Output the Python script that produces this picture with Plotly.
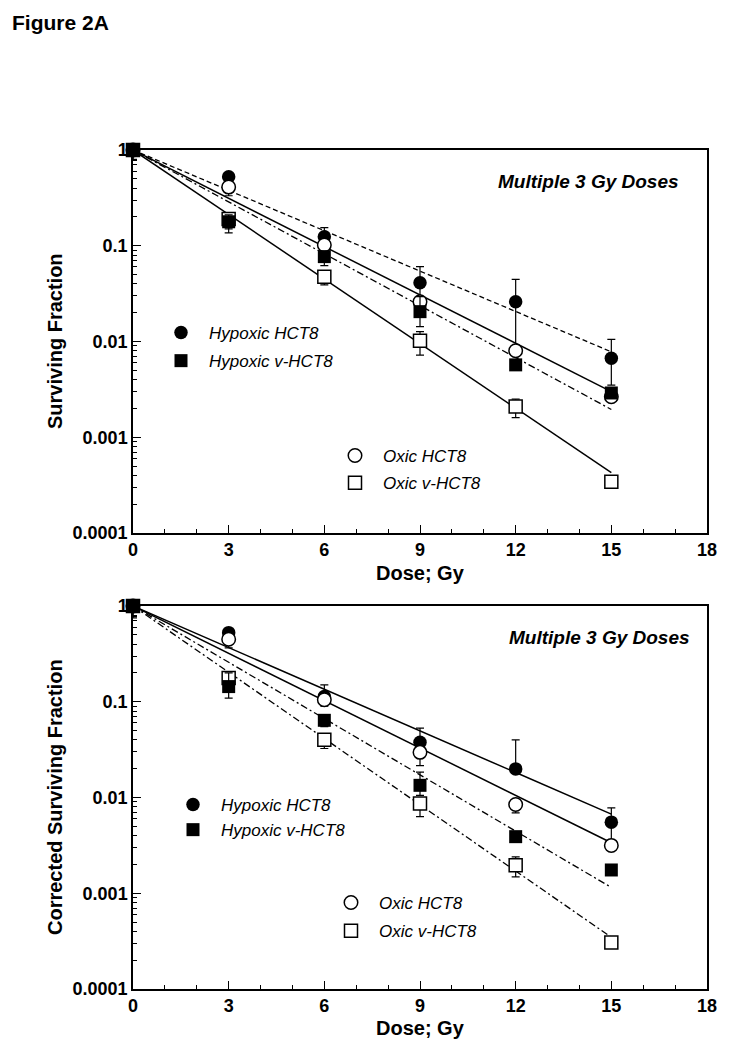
import plotly.graph_objects as go

dose = [0, 3, 6, 9, 12, 15]
fit_x = [0, 15]

# ---- Top panel: Surviving Fraction ----
top_hyp_hct8 = [1, 0.526, 0.124, 0.041, 0.026, 0.0067]
top_hyp_hct8_hi = [1, 0.56, 0.155, 0.0605, 0.0446, 0.0105]
top_hyp_hct8_lo = [1, 0.49, 0.10, 0.028, 0.009, 0.0035]

top_oxic_hct8 = [1, 0.41, 0.102, 0.026, 0.008, 0.00265]
top_oxic_hct8_hi = [1, 0.44, 0.11, 0.028, 0.0085, 0.0028]
top_oxic_hct8_lo = [0.8, 0.333, 0.094, 0.024, 0.0075, 0.0025]

top_hyp_vhct8 = [1, 0.178, 0.077, 0.0205, 0.0057, 0.0029]
top_hyp_vhct8_hi = [1, 0.21, 0.085, 0.0294, 0.006, 0.003]
top_hyp_vhct8_lo = [0.78, 0.136, 0.062, 0.0143, 0.0054, 0.0028]

top_oxic_vhct8 = [1, 0.19, 0.0475, 0.0102, 0.0021, 0.000343]
top_oxic_vhct8_hi = [1, 0.2, 0.05, 0.0127, 0.0025, 0.00035]
top_oxic_vhct8_lo = [1, 0.15, 0.039, 0.0072, 0.0016, 0.00034]

top_fit_hyp_hct8 = [1, 0.0078]
top_fit_oxic_hct8 = [1, 0.003]
top_fit_hyp_vhct8 = [1, 0.00195]
top_fit_oxic_vhct8 = [1, 0.000427]

# ---- Bottom panel: Corrected Surviving Fraction ----
bot_hyp_hct8 = [1, 0.527, 0.1135, 0.0377, 0.0199, 0.00553]
bot_hyp_hct8_hi = [1, 0.56, 0.15, 0.053, 0.040, 0.0078]
bot_hyp_hct8_lo = [1, 0.5, 0.09, 0.03, 0.0199, 0.0033]

bot_oxic_hct8 = [1, 0.45, 0.105, 0.0296, 0.00845, 0.00316]
bot_oxic_hct8_hi = [1, 0.47, 0.11, 0.032, 0.0088, 0.0033]
bot_oxic_hct8_lo = [0.78, 0.365, 0.095, 0.0215, 0.0069, 0.003]

bot_hyp_vhct8 = [1, 0.144, 0.064, 0.0134, 0.0039, 0.00175]
bot_hyp_vhct8_hi = [1, 0.2, 0.07, 0.0184, 0.0041, 0.0018]
bot_hyp_vhct8_lo = [0.75, 0.109, 0.055, 0.0105, 0.0037, 0.0016]

bot_oxic_vhct8 = [1, 0.177, 0.040, 0.00866, 0.00196, 0.000306]
bot_oxic_vhct8_hi = [1, 0.19, 0.042, 0.0095, 0.0024, 0.00032]
bot_oxic_vhct8_lo = [1, 0.16, 0.0325, 0.0063, 0.00148, 0.0003]

bot_fit_hyp_hct8 = [1, 0.0067]
bot_fit_oxic_hct8 = [1, 0.00337]
bot_fit_hyp_vhct8 = [1, 0.00115]
bot_fit_oxic_vhct8 = [1, 0.000347]

names = ["Hypoxic HCT8", "Hypoxic v-HCT8", "Oxic HCT8", "Oxic v-HCT8"]

FONT = "Liberation Sans, Arial, sans-serif"
OFF = 8                     # page body margin offset
W, H = 729 - 2 * OFF, 1050 - 2 * OFF
L = 133 - OFF
R = W - (707 - OFF)


def px_x(p):
    return (p - OFF - L) / (W - L - R)


def px_y(p):
    return 1 - (p - OFF) / H


fig = go.Figure()


def add_panel(fig, xa, ya, series, fits):
    for fy, dash, wid in fits:
        fig.add_trace(go.Scatter(
            x=fit_x, y=fy, mode="lines", xaxis=xa, yaxis=ya,
            line=dict(color="black", width=wid, dash=dash),
            showlegend=False, hoverinfo="skip", cliponaxis=False))
    for (vals, hi, lo, name, sym, filled, leg, rank) in series:
        plus = [h - v for h, v in zip(hi, vals)]
        minus = [v - l for v, l in zip(vals, lo)]
        fig.add_trace(go.Scatter(
            x=dose, y=vals, mode="markers", name=name, xaxis=xa, yaxis=ya,
            legend=leg, legendgroup=name + leg, legendrank=rank,
            marker=dict(symbol=sym, size=13 if sym == "square" else 13.5,
                        color="black" if filled else "white",
                        line=dict(color="black", width=0 if filled else 1.5)),
            error_y=dict(type="data", array=plus, arrayminus=minus,
                         color="black", thickness=1.2, width=4),
            cliponaxis=False))


add_panel(
    fig, "x", "y",
    [
        (top_oxic_vhct8, top_oxic_vhct8_hi, top_oxic_vhct8_lo, names[3], "square", False, "legend2", 2),
        (top_hyp_hct8, top_hyp_hct8_hi, top_hyp_hct8_lo, names[0], "circle", True, "legend", 1),
        (top_oxic_hct8, top_oxic_hct8_hi, top_oxic_hct8_lo, names[2], "circle", False, "legend2", 1),
        (top_hyp_vhct8, top_hyp_vhct8_hi, top_hyp_vhct8_lo, names[1], "square", True, "legend", 2),
    ],
    [
        (top_fit_hyp_hct8, "5px,3px", 1.3),
        (top_fit_oxic_hct8, "solid", 1.5),
        (top_fit_hyp_vhct8, "7px,3px,2px,3px", 1.3),
        (top_fit_oxic_vhct8, "solid", 1.5),
    ],
)

add_panel(
    fig, "x2", "y2",
    [
        (bot_oxic_vhct8, bot_oxic_vhct8_hi, bot_oxic_vhct8_lo, names[3], "square", False, "legend4", 2),
        (bot_hyp_hct8, bot_hyp_hct8_hi, bot_hyp_hct8_lo, names[0], "circle", True, "legend3", 1),
        (bot_oxic_hct8, bot_oxic_hct8_hi, bot_oxic_hct8_lo, names[2], "circle", False, "legend4", 1),
        (bot_hyp_vhct8, bot_hyp_vhct8_hi, bot_hyp_vhct8_lo, names[1], "square", True, "legend3", 2),
    ],
    [
        (bot_fit_hyp_hct8, "solid", 1.5),
        (bot_fit_oxic_hct8, "solid", 1.5),
        (bot_fit_hyp_vhct8, "7px,3px,2px,3px", 1.3),
        (bot_fit_oxic_vhct8, "7px,3px,2px,3px", 1.3),
    ],
)

tickfont = dict(family=FONT, size=18, color="black", weight="bold")

xcommon = dict(range=[0, 18], dtick=3, tick0=0, ticks="inside", ticklen=8,
               tickwidth=1.2, tickcolor="black", showline=True, linewidth=1.5,
               linecolor="black", mirror=True, showgrid=False, zeroline=False,
               tickfont=tickfont, automargin=False,
               minor=dict(dtick=1, ticks="inside", ticklen=4, tickwidth=1,
                          tickcolor="black", showgrid=False))
ycommon = dict(type="log", range=[-4, 0], dtick=1, tick0=0, exponentformat="none",
               ticks="inside", ticklen=8, tickwidth=1.2, tickcolor="black",
               showline=True, linewidth=1.5, linecolor="black", mirror=True,
               showgrid=False, zeroline=False, tickfont=tickfont, automargin=False,
               minor=dict(dtick="D1", ticks="inside", ticklen=4, tickwidth=1,
                          tickcolor="black", showgrid=False))

leg_common = dict(font=dict(family=FONT, size=17, color="black", style="italic"),
                  bgcolor="rgba(0,0,0,0)", borderwidth=0, xanchor="left",
                  yanchor="top", traceorder="grouped", itemwidth=46,
                  itemsizing="trace")

fig.update_layout(
    width=W, height=H,
    margin=dict(l=L, r=R, t=0, b=0),
    paper_bgcolor="white", plot_bgcolor="white",
    xaxis=dict(domain=[0, 1], anchor="y", **xcommon),
    yaxis=dict(domain=[px_y(533), px_y(150)], anchor="x", **ycommon),
    xaxis2=dict(domain=[0, 1], anchor="y2", **xcommon),
    yaxis2=dict(domain=[px_y(989), px_y(606)], anchor="x2", **ycommon),
    legend=dict(x=px_x(153), y=px_y(315), tracegroupgap=3, **leg_common),
    legend2=dict(x=px_x(327), y=px_y(438), tracegroupgap=2, **leg_common),
    legend3=dict(x=px_x(165), y=px_y(787), tracegroupgap=0, **leg_common),
    legend4=dict(x=px_x(323), y=px_y(885), tracegroupgap=3, **leg_common),
    showlegend=True,
)

ann_font_b = dict(family=FONT, color="black", weight="bold")
annotations = [
    dict(text="Figure 2A", x=px_x(10), y=px_y(9), xanchor="left", yanchor="top",
         font=dict(size=21, **ann_font_b)),
    dict(text="Surviving Fraction", x=px_x(55), y=px_y(341), textangle=-90,
         xanchor="center", yanchor="middle", font=dict(size=20, **ann_font_b)),
    dict(text="Corrected Surviving Fraction", x=px_x(55), y=px_y(797), textangle=-90,
         xanchor="center", yanchor="middle", font=dict(size=20, **ann_font_b)),
    dict(text="Dose; Gy", x=px_x(420), y=px_y(573), xanchor="center", yanchor="middle",
         font=dict(size=20, **ann_font_b)),
    dict(text="Dose; Gy", x=px_x(420), y=px_y(1028), xanchor="center", yanchor="middle",
         font=dict(size=20, **ann_font_b)),
    dict(text="Multiple 3 Gy Doses", x=px_x(681), y=px_y(182), xanchor="right",
         yanchor="middle", font=dict(size=19, style="italic", **ann_font_b)),
    dict(text="Multiple 3 Gy Doses", x=px_x(692), y=px_y(637), xanchor="right",
         yanchor="middle", font=dict(size=19, style="italic", **ann_font_b)),
]
for a in annotations:
    a.update(xref="paper", yref="paper", showarrow=False)
fig.update_layout(annotations=annotations)

fig.write_html("out.html")
